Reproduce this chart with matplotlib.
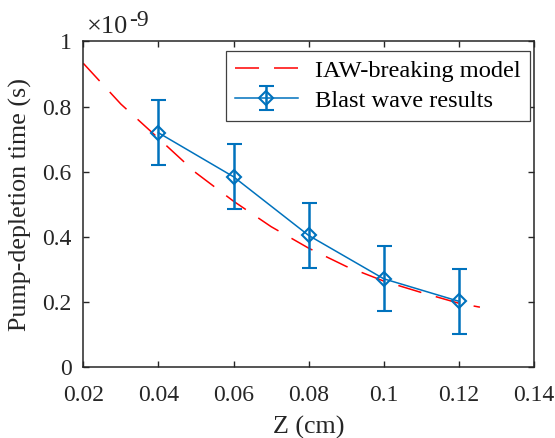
import matplotlib
matplotlib.use("Agg")
import matplotlib.pyplot as plt
from matplotlib.ticker import FuncFormatter

# ---- data (y values in units of 1e-9 s) ----
model_z = [0.02, 0.03, 0.04, 0.05, 0.06, 0.07, 0.08, 0.09, 0.10, 0.11, 0.12, 0.1256]
model_t = [0.933, 0.808, 0.703, 0.597, 0.510, 0.432, 0.366, 0.310, 0.265, 0.230, 0.197, 0.185]

blast_z = [0.04, 0.06, 0.08, 0.10, 0.12]
blast_t = [0.720, 0.585, 0.405, 0.272, 0.203]
blast_err = [0.10, 0.10, 0.10, 0.10, 0.10]

xticks = [0.02, 0.04, 0.06, 0.08, 0.10, 0.12, 0.14]
yticks = [0, 0.2, 0.4, 0.6, 0.8, 1.0]

plt.rcParams['font.family'] = ['Liberation Serif', 'DejaVu Serif']
plt.rcParams['lines.scale_dashes'] = False

axc = '#262626'
blue = '#0072BD'

fig = plt.figure(figsize=(5.55, 4.38), dpi=100)
ax = fig.add_axes([0.1501, 0.161, 0.9622 - 0.1501, 0.9053 - 0.161])

ax.plot(model_z, model_t, color='red', lw=1.1, linestyle=(0, (17.3, 10.8)),
        label='IAW-breaking model')
ax.errorbar(blast_z, blast_t, yerr=blast_err, color=blue, lw=1.1,
            elinewidth=1.8, capsize=5.4, capthick=1.7,
            marker='D', markersize=7.0, markerfacecolor='none',
            markeredgecolor=blue, markeredgewidth=1.5,
            label='Blast wave results')

ax.set_xlim(0.02, 0.14)
ax.set_ylim(0, 1)
ax.set_xticks(xticks)
ax.set_yticks(yticks)
fmt = FuncFormatter(lambda v, p: ('%g' % round(v, 6)))
ax.xaxis.set_major_formatter(fmt)
ax.yaxis.set_major_formatter(fmt)

ax.tick_params(direction='in', length=4, width=1.0, colors=axc,
               labelsize=17, top=True, right=True, labelcolor=axc)
ax.tick_params(axis='x', pad=12.5)
ax.tick_params(axis='y', pad=8.5)
for s in ax.spines.values():
    s.set_linewidth(1.1)
    s.set_color(axc)

ax.set_xlabel('Z (cm)', fontsize=18.7, color=axc, labelpad=7.5)
ax.set_ylabel('Pump-depletion time (s)', fontsize=18.7, color=axc, labelpad=7)

t1 = ax.text(0.0075, 1.010, '\u00d710', transform=ax.transAxes,
             fontsize=19, color=axc, ha='left', va='bottom')
ax.annotate('-9', xy=(1, 0), xycoords=t1, xytext=(0.8, 5.0),
            textcoords='offset points', fontsize=17, color=axc,
            ha='left', va='bottom')

leg = ax.legend(loc='upper right', bbox_to_anchor=(0.9911, 0.9718),
                borderaxespad=0, fontsize=17.6, handlelength=2.6,
                handletextpad=0.7, labelspacing=0.32, borderpad=0.37,
                fancybox=False, framealpha=1, edgecolor='#404040')
leg.get_frame().set_linewidth(0.9)

fig.savefig('out.png', dpi=100)
